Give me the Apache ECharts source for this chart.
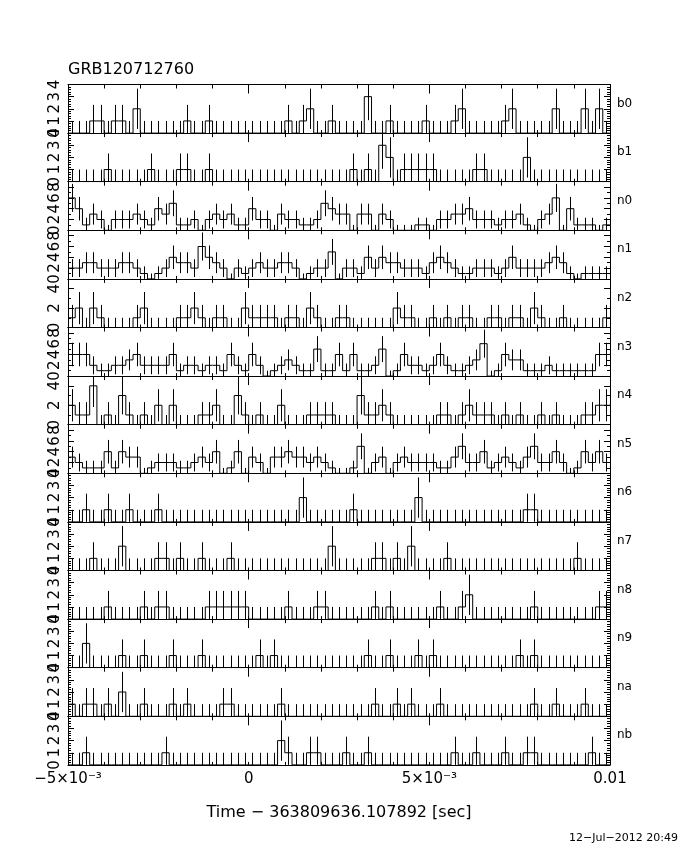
<!DOCTYPE html>
<html><head><meta charset="utf-8">
<script src="https://cdn.jsdelivr.net/npm/echarts@6/dist/echarts.min.js"></script>
<style>html,body{margin:0;padding:0;background:#fff}#c{width:680px;height:850px}</style>
</head><body><div id="c"></div>
<script>
// ---------------- data ----------------
const chartTitle = 'GRB120712760';
const xTitle = 'Time \u2212 363809636.107892 [sec]';
const dateStamp = '12\u2212Jul\u22122012 20:49';
const detectors = ['b0','b1','n0','n1','n2','n3','n4','n5','n6','n7','n8','n9','na','nb'];
const yMax      = [4, 4, 9, 9, 5, 9, 5, 9, 4, 4, 4, 4, 4, 4];
const yStep     = [1, 1, 2, 2, 2, 2, 2, 2, 1, 1, 1, 1, 1, 1];
const yMinor    = [5, 5, 2, 2, 2, 2, 2, 2, 5, 5, 5, 5, 5, 5];
const xMin = -0.005, xMax = 0.01, binWidth = 0.0002;
const xTickValues = [-0.005, 0, 0.005, 0.01];
const xTickLabels = ['\u22125\u00d710\u207b\u00b3', '0', '5\u00d710\u207b\u00b3', '0.01'];

// counts per 0.2 ms bin (75 bins)
const b0 = [0,0,0,1,1,0,1,1,0,2, 0,0,0,0,0,0,1,0,0,1, 0,0,0,0,0,0,0,0,0,0, 1,0,1,2,0,0,1,0,0,0,
            0,3,0,0,1,0,0,0,0,1, 0,0,0,1,2,0,0,0,0,0, 1,2,0,0,0,0,0,2,0,0, 0,2,0,2,0];
const b1 = [0,0,0,0,0,1,0,0,0,0, 0,1,0,0,0,1,1,0,0,1, 0,0,0,0,0,0,0,0,0,0, 0,0,0,0,0,0,0,0,0,1,
            0,1,0,3,2,0,1,1,1,1, 1,0,0,0,0,0,1,1,0,0, 0,0,0,2,0,0,0,0,0,0, 0,0,0,0,0];
const n0 = [6,4,1,3,2,0,2,2,2,3, 2,1,4,3,5,1,1,2,0,2, 3,2,3,1,1,4,2,2,0,3, 2,2,1,1,2,5,4,3,3,0,
            3,3,0,3,2,0,0,0,1,1, 0,2,2,3,3,4,2,2,2,1, 2,2,3,1,0,2,3,6,0,4, 1,1,1,0,1];
const n1 = [2,2,3,3,2,2,2,3,3,2, 1,0,1,2,4,3,3,2,6,4, 3,2,0,2,1,2,3,2,2,3, 3,2,0,1,2,2,5,0,2,2,
            1,4,2,4,3,3,2,2,2,1, 3,4,3,2,1,1,2,2,2,1, 2,4,2,2,2,2,3,4,3,1, 0,1,1,1,1];
const n2 = [1,2,0,2,1,0,0,0,0,1, 2,0,0,0,0,1,1,2,1,0, 1,1,0,0,2,1,1,1,1,0, 1,1,0,2,1,0,0,1,1,0,
            0,0,0,0,0,2,1,1,0,0, 1,0,1,0,1,1,0,0,1,1, 0,1,1,0,2,1,0,0,1,0, 0,0,0,0,1];
const n3 = [4,4,4,2,1,1,2,2,3,4, 2,2,2,2,4,1,2,2,1,2, 2,1,4,2,1,4,2,0,1,2, 3,2,1,1,5,1,1,4,1,4,
            1,1,2,5,0,1,4,2,2,1, 2,4,2,1,1,2,3,6,0,1, 4,3,3,1,1,1,2,1,1,1, 1,1,1,4,4];
const n4 = [2,1,1,4,0,1,0,3,1,0, 1,0,2,0,2,0,0,0,1,1, 2,0,0,3,1,0,1,0,0,2, 0,0,0,1,1,1,1,0,0,0,
            3,1,1,2,1,0,0,0,0,0, 0,1,1,0,1,2,1,1,1,0, 1,0,1,0,0,1,0,1,0,0, 0,1,1,2,2];
const n5 = [3,2,1,1,1,4,1,4,3,3, 0,1,2,2,2,1,1,2,3,2, 4,0,1,4,0,3,2,0,3,3, 4,3,3,2,3,2,1,0,0,1,
            5,0,2,3,0,2,3,2,2,2, 2,1,1,3,5,2,2,4,1,2, 3,2,1,3,5,2,2,4,2,0, 1,4,2,4,2];
const n6 = [0,0,1,0,0,1,0,0,1,0, 0,0,1,0,0,0,0,0,0,0, 0,0,0,0,0,0,0,0,0,0, 0,0,2,0,0,0,0,0,0,1,
            0,0,0,0,0,0,0,0,2,0, 0,0,0,0,0,0,0,0,0,0, 0,0,0,1,1,0,0,0,0,0, 0,0,0,0,0];
const n7 = [0,0,0,1,0,0,0,2,0,0, 0,0,1,1,0,1,0,0,1,0, 0,0,1,0,0,0,0,0,0,0, 0,0,0,0,0,0,2,0,0,0,
            0,0,1,1,0,1,0,2,0,0, 0,0,1,0,0,0,0,0,0,0, 0,0,0,0,0,0,0,0,0,0, 1,0,0,0,0];
const n8 = [0,0,0,0,0,1,0,0,0,0, 1,0,1,1,0,0,0,0,0,1, 1,1,1,1,1,0,0,0,0,0, 1,0,0,0,1,1,0,0,0,0,
            0,0,1,0,1,0,0,0,0,0, 0,1,0,0,1,2,0,0,0,0, 0,0,0,0,1,0,0,0,0,0, 0,0,0,1,1];
const n9 = [0,0,2,0,0,0,0,1,0,0, 1,0,0,0,1,0,0,0,1,0, 0,0,0,0,0,0,1,0,1,0, 0,0,0,0,0,0,0,0,0,0,
            0,1,0,0,1,0,0,0,1,0, 1,0,0,0,0,0,0,0,0,0, 0,0,1,0,1,0,0,0,0,0, 0,0,0,0,0];
const na = [1,0,1,1,0,1,0,2,0,0, 1,0,0,0,1,0,1,0,0,0, 0,1,1,0,0,0,0,0,0,1, 0,0,0,0,0,0,0,0,0,0,
            0,0,1,0,0,1,0,1,0,0, 0,1,0,0,0,0,0,0,0,0, 0,0,0,0,1,0,0,1,0,0, 0,1,0,0,0];
const nb = [0,0,1,0,0,0,0,0,0,0, 0,0,0,1,0,0,0,0,0,0, 0,0,0,0,0,0,0,0,0,2, 1,0,0,1,1,0,0,0,1,0,
            0,1,0,0,0,0,0,0,0,0, 0,0,0,1,0,0,1,0,0,0, 1,0,0,1,1,0,0,0,0,0, 0,0,1,0,0];
const counts = [b0,b1,n0,n1,n2,n3,n4,n5,n6,n7,n8,n9,na,nb];

// ---------------- layout ----------------
const plotLeft = 68, plotWidth = 542, plotTop = 84.5, panelH = 48.6;
const font = '"DejaVu Sans", "Liberation Sans", sans-serif';
const chart = echarts.init(document.getElementById('c'), null, {renderer: 'canvas'});

const grid = [], xAxis = [], yAxis = [], series = [], graphic = [];
const black = '#000';

function xLabel(v) {
  for (let j = 0; j < xTickValues.length; j++) {
    if (Math.abs(v - xTickValues[j]) < 1e-9) return xTickLabels[j];
  }
  return '';
}

detectors.forEach((name, i) => {
  const last = i === detectors.length - 1;
  grid.push({left: plotLeft, top: plotTop + i * panelH, width: plotWidth, height: panelH});
  // bottom axis
  xAxis.push({gridIndex: i, type: 'value', min: xMin, max: xMax, interval: 0.001, position: 'bottom',
    axisLine: {show: true, onZero: false, lineStyle: {color: black, width: 1}},
    axisTick: {show: true, inside: true, length: 3, lineStyle: {color: black}},
    axisLabel: {show: last, formatter: xLabel, color: black, fontSize: 15, fontFamily: font, margin: 7},
    splitLine: {show: false}});
  // top axis, small ticks
  xAxis.push({gridIndex: i, type: 'value', min: xMin, max: xMax, interval: 0.001, position: 'top',
    axisLine: {show: true, onZero: false, lineStyle: {color: black, width: 1}},
    axisTick: {show: true, inside: true, length: 4, lineStyle: {color: black}},
    axisLabel: {show: false}, splitLine: {show: false}});
  // top axis, long ticks
  xAxis.push({gridIndex: i, type: 'value', min: xMin, max: xMax, interval: 0.005, position: 'top',
    axisLine: {show: false, onZero: false},
    axisTick: {show: true, inside: true, length: 9, lineStyle: {color: black}},
    axisLabel: {show: false}, splitLine: {show: false}});
  const showMax = yMax[i] % yStep[i] === 0;
  const yCommon = {gridIndex: i, type: 'value', min: 0, max: yMax[i], interval: yStep[i],
    axisLine: {show: true, onZero: false, lineStyle: {color: black, width: 1}},
    axisTick: {show: true, inside: true, length: 6, lineStyle: {color: black}},
    minorTick: {show: true, splitNumber: yMinor[i], length: 3, lineStyle: {color: black}},
    splitLine: {show: false}, minorSplitLine: {show: false}};
  yAxis.push(Object.assign({}, yCommon, {position: 'left',
    axisLabel: {show: true, rotate: 90, color: black, fontSize: 15, fontFamily: font, margin: 5,
      showMaxLabel: showMax, showMinLabel: true}}));
  yAxis.push(Object.assign({}, yCommon, {position: 'right', axisLabel: {show: false}}));

  const c = counts[i];
  const stepData = c.map((n, k) => [xMin + k * binWidth, n]);
  stepData.push([xMin + c.length * binWidth, c[c.length - 1]]);
  series.push({type: 'line', xAxisIndex: 3 * i, yAxisIndex: 2 * i, data: stepData, step: 'end',
    symbol: 'none', silent: true, clip: true, lineStyle: {color: black, width: 1}});
  const errData = c.map((n, k) => {
    const e = n > 0 ? Math.sqrt(n + 0.75) : 1;
    return [xMin + (k + 0.5) * binWidth, Math.max(0, n - e), Math.min(yMax[i], n + e)];
  });
  series.push({type: 'custom', xAxisIndex: 3 * i, yAxisIndex: 2 * i, data: errData, silent: true, clip: true,
    renderItem: (params, api) => {
      const p1 = api.coord([api.value(0), api.value(1)]);
      const p2 = api.coord([api.value(0), api.value(2)]);
      const x = Math.round(p1[0]) + 0.5;
      return {type: 'line', shape: {x1: x, y1: p1[1], x2: x, y2: p2[1]},
        style: {stroke: black, lineWidth: 1}};
    }});
  graphic.push({type: 'text', x: 617, y: plotTop + i * panelH + 19, silent: true,
    style: {text: name, fill: black, font: '12px ' + font, verticalAlign: 'middle'}});
});

graphic.push({type: 'text', x: 68, y: 70, silent: true,
  style: {text: chartTitle, fill: black, font: '16px ' + font, verticalAlign: 'middle'}});
graphic.push({type: 'text', x: 339, y: 813, silent: true,
  style: {text: xTitle, fill: black, font: '16px ' + font, align: 'center', verticalAlign: 'middle'}});
graphic.push({type: 'text', x: 678, y: 838, silent: true,
  style: {text: dateStamp, fill: black, font: '11px ' + font, align: 'right', verticalAlign: 'middle'}});

chart.setOption({
  animation: false,
  backgroundColor: '#fff',
  grid, xAxis, yAxis, series, graphic
});
</script>
</body></html>
